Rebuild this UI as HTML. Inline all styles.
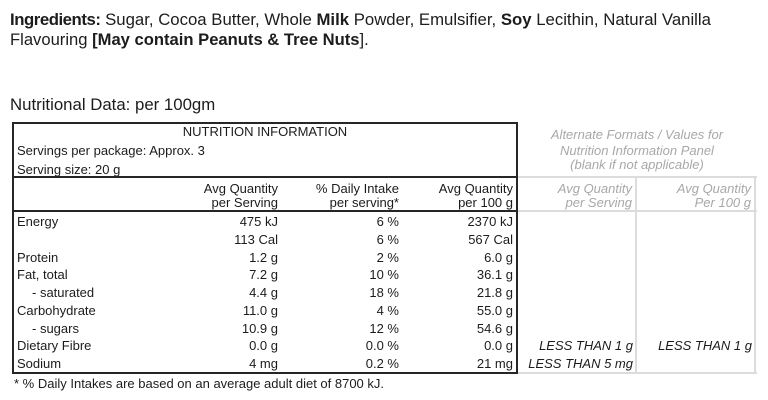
<!DOCTYPE html>
<html><head><meta charset="utf-8"><style>
*{margin:0;padding:0;box-sizing:border-box}
body{width:768px;height:400px;background:#fff;position:relative;overflow:hidden;font-family:"Liberation Sans",Arial,sans-serif;color:#1c1c1c}
.t{position:absolute;white-space:nowrap;font-size:13px;line-height:16px}
.r{text-align:right}
.g{color:#a8a8a8;font-style:italic}
.ln{position:absolute;background:#262626}
.gl{position:absolute;background:#dcdcdc}
b{font-weight:bold}
</style></head><body>
<div class="t" style="left:10px;top:10px;font-size:16.75px;line-height:20px"><b style="letter-spacing:-0.45px">Ingredients:</b> Sugar, Cocoa Butter, Whole <b>Milk</b> Powder, Emulsifier, <b>Soy</b> Lecithin, Natural Vanilla</div>
<div class="t" style="left:10px;top:30px;font-size:16.6px;line-height:20px">Flavouring <b>[May contain Peanuts &amp; Tree Nuts</b>].</div>
<div class="t" style="left:10px;top:95px;font-size:16.8px;line-height:20px">Nutritional Data: per 100gm</div>

<!-- main table borders -->
<div class="ln" style="left:12px;top:122px;width:506px;height:2px"></div>
<div class="ln" style="left:12px;top:372px;width:506px;height:2px"></div>
<div class="ln" style="left:12px;top:122px;width:2px;height:252px"></div>
<div class="ln" style="left:516px;top:122px;width:2px;height:252px"></div>
<div class="ln" style="left:12px;top:176px;width:506px;height:2px"></div>
<div class="ln" style="left:12px;top:210px;width:506px;height:2px"></div>

<!-- grey table -->
<div class="gl" style="left:518px;top:176px;width:239px;height:2px"></div>
<div class="gl" style="left:518px;top:210px;width:239px;height:2px"></div>
<div class="gl" style="left:518px;top:372px;width:239px;height:2px"></div>
<div class="gl" style="left:635px;top:176px;width:2px;height:198px"></div>
<div class="gl" style="left:754px;top:176px;width:2px;height:198px"></div>

<div class="t" style="left:14px;width:502px;text-align:center;top:124px">NUTRITION INFORMATION</div>
<div class="t" style="left:17px;top:143px">Servings per package: Approx. 3</div>
<div class="t" style="left:17px;top:162px">Serving size: 20 g</div>

<div class="t r" style="right:490px;top:181px">Avg Quantity</div>
<div class="t r" style="right:490px;top:195px">per Serving</div>
<div class="t r" style="right:369px;top:181px">% Daily Intake</div>
<div class="t r" style="right:369px;top:195px">per serving*</div>
<div class="t r" style="right:255px;top:181px">Avg Quantity</div>
<div class="t r" style="right:255px;top:195px">per 100 g</div>

<div class="t g" style="left:518px;width:238px;text-align:center;top:127px">Alternate Formats / Values for</div>
<div class="t g" style="left:518px;width:238px;text-align:center;top:143px">Nutrition Information Panel</div>
<div class="t g" style="left:518px;width:238px;text-align:center;top:157px">(blank if not applicable)</div>
<div class="t g r" style="right:136px;top:181px">Avg Quantity</div>
<div class="t g r" style="right:136px;top:195px">per Serving</div>
<div class="t g r" style="right:17px;top:181px">Avg Quantity</div>
<div class="t g r" style="right:17px;top:195px">Per 100 g</div>

<!-- rows -->
<div class="t" style="left:17px;top:214px">Energy</div>
<div class="t r" style="right:490px;top:214px">475 kJ</div>
<div class="t r" style="right:369px;top:214px">6 %</div>
<div class="t r" style="right:255px;top:214px">2370 kJ</div>

<div class="t r" style="right:490px;top:232px">113 Cal</div>
<div class="t r" style="right:369px;top:232px">6 %</div>
<div class="t r" style="right:255px;top:232px">567 Cal</div>

<div class="t" style="left:17px;top:249.5px">Protein</div>
<div class="t r" style="right:490px;top:249.5px">1.2 g</div>
<div class="t r" style="right:369px;top:249.5px">2 %</div>
<div class="t r" style="right:255px;top:249.5px">6.0 g</div>

<div class="t" style="left:17px;top:267px">Fat, total</div>
<div class="t r" style="right:490px;top:267px">7.2 g</div>
<div class="t r" style="right:369px;top:267px">10 %</div>
<div class="t r" style="right:255px;top:267px">36.1 g</div>

<div class="t" style="left:32px;top:285px">- saturated</div>
<div class="t r" style="right:490px;top:285px">4.4 g</div>
<div class="t r" style="right:369px;top:285px">18 %</div>
<div class="t r" style="right:255px;top:285px">21.8 g</div>

<div class="t" style="left:17px;top:303px">Carbohydrate</div>
<div class="t r" style="right:490px;top:303px">11.0 g</div>
<div class="t r" style="right:369px;top:303px">4 %</div>
<div class="t r" style="right:255px;top:303px">55.0 g</div>

<div class="t" style="left:32px;top:320.5px">- sugars</div>
<div class="t r" style="right:490px;top:320.5px">10.9 g</div>
<div class="t r" style="right:369px;top:320.5px">12 %</div>
<div class="t r" style="right:255px;top:320.5px">54.6 g</div>

<div class="t" style="left:17px;top:338px">Dietary Fibre</div>
<div class="t r" style="right:490px;top:338px">0.0 g</div>
<div class="t r" style="right:369px;top:338px">0.0 %</div>
<div class="t r" style="right:255px;top:338px">0.0 g</div>
<div class="t r" style="right:135px;top:338px;font-style:italic">LESS THAN 1 g</div>
<div class="t r" style="right:16px;top:338px;font-style:italic">LESS THAN 1 g</div>

<div class="t" style="left:17px;top:356px">Sodium</div>
<div class="t r" style="right:490px;top:356px">4 mg</div>
<div class="t r" style="right:369px;top:356px">0.2 %</div>
<div class="t r" style="right:255px;top:356px">21 mg</div>
<div class="t r" style="right:135px;top:356px;font-style:italic">LESS THAN 5 mg</div>

<div class="t" style="left:14px;top:376px">* % Daily Intakes are based on an average adult diet of 8700 kJ.</div>
</body></html>
